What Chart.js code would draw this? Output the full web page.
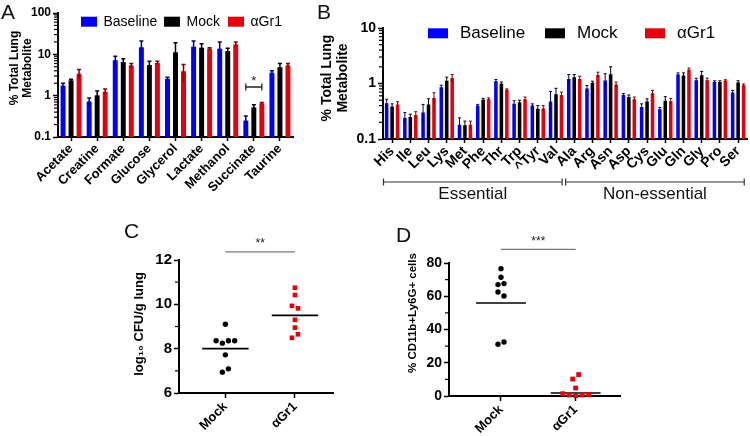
<!DOCTYPE html>
<html><head><meta charset="utf-8">
<script src="https://cdn.jsdelivr.net/npm/chart.js@4.4.1/dist/chart.umd.min.js"></script>
<style>
html,body{margin:0;padding:0;background:#fff}
#wrap{position:relative;width:750px;height:436px;overflow:hidden;font-family:'Liberation Sans',Arial,sans-serif}
#wrap canvas{position:absolute}
.letter{position:absolute;font-size:21px;line-height:1;color:#111}
</style></head><body>
<div id="wrap">
<canvas id="cA" width="300" height="210" style="left:0;top:0"></canvas>
<canvas id="cB" width="450" height="210" style="left:300px;top:0"></canvas>
<canvas id="cC" width="240" height="226" style="left:120px;top:210px"></canvas>
<canvas id="cD" width="250" height="226" style="left:380px;top:210px"></canvas>
<div class="letter" style="left:1px;top:1px">A</div>
<div class="letter" style="left:317px;top:1px">B</div>
<div class="letter" style="left:124px;top:220px">C</div>
<div class="letter" style="left:396px;top:224px">D</div>
</div>
<script>
// ---------- DATA ----------
const seriesNames = ['Baseline', 'Mock', '\u03b1Gr1'];

// Panel A: % total lung metabolite (bar heights and upper error-bar ends)
const metabolites = ['Acetate','Creatine','Formate','Glucose','Glycerol','Lactate','Methanol','Succinate','Taurine'];
const metBaseline    = [1.75, 0.72, 7.2, 14.8, 2.55, 15.3, 13.7, 0.25, 3.6];
const metBaselineErr = [2.0,  0.88, 9.0, 21,   2.8,  21,   20,   0.32, 4.0];
const metMock        = [2.35, 1.02, 6.5, 5.5,  11.2, 14.5, 12.0, 0.52, 4.9];
const metMockErr     = [2.5,  1.3,  7.8, 6.8,  19,   18,   14,   0.60, 6.0];
const metAgr1        = [3.4,  1.25, 5.4, 6.2,  3.9,  13.7, 17.4, 0.65, 5.4];
const metAgr1Err     = [4.3,  1.45, 6.0, 6.8,  5.7,  14.5, 20,   0.68, 6.0];
const metTickLabels  = ['0.1', '1', '10', '100'];
const sigA = { category: 'Succinate', from: 0, to: 2, y: 1.62, text: '*' };

// Panel B: amino acids
const aminoAcids = ['His','Ile','Leu','Lys','Met','Phe','Thr','Trp','^Tyr','Val','Ala','Arg','Asn','Asp','Cys','Glu','Gln','Gly','Pro','Ser'];
const aaBaseline    = [0.44, 0.24, 0.30, 0.86, 0.18, 0.40, 1.10, 0.43, 0.40, 0.475, 1.21, 0.81, 1.13, 0.62, 0.376, 0.345, 1.45, 1.15, 1.06, 0.69];
const aaBaselineErr = [0.52, 0.30, 0.42, 0.93, 0.24, 0.42, 1.18, 0.49, 0.43, 0.72,  1.45, 0.92, 1.50, 0.66, 0.43,  0.37,  1.55, 1.24, 1.12, 0.75];
const aaMock        = [0.386,0.25, 0.42, 1.12, 0.177,0.51, 0.99, 0.46, 0.35, 0.64,  1.30, 1.03, 1.47, 0.57, 0.475, 0.49,  1.39, 1.41, 1.06, 1.04];
const aaMockErr     = [0.43, 0.28, 0.53, 1.30, 0.21, 0.54, 1.06, 0.50, 0.40, 0.82,  1.45, 1.10, 2.0,  0.62, 0.53,  0.58,  1.55, 1.65, 1.12, 1.12];
const aaAgr1        = [0.42, 0.27, 0.55, 1.26, 0.18, 0.52, 0.77, 0.52, 0.355,0.62,  1.21, 1.43, 0.96, 0.52, 0.67,  0.48,  1.76, 1.15, 1.13, 0.93];
const aaAgr1Err     = [0.47, 0.31, 0.68, 1.45, 0.21, 0.55, 0.80, 0.57, 0.40, 0.70,  1.35, 1.60, 1.06, 0.57, 0.75,  0.54,  1.90, 1.25, 1.17, 0.98];
const aaTickLabels  = ['0.1', '1', '10'];
const aaGroups = [{ label: 'Essential', from: 0, to: 9 }, { label: 'Non-essential', from: 10, to: 19 }];

// Panels C & D: individual animals
const groups = ['Mock', '\u03b1Gr1'];
const groupPos = [1, 2.5];
const cfuMock        = [9.10, 8.36, 8.25, 8.36, 8.36, 7.72, 6.94, 7.09];
const cfuMockJitter  = [0, -0.2, -0.065, 0.065, 0.2, 0, -0.065, 0.065];
const cfuAgr1        = [10.75, 10.42, 9.93, 9.82, 9.30, 8.95, 8.65, 8.49];
const cfuAgr1Jitter  = [0, 0, -0.065, 0.065, 0, 0, 0.065, -0.065];
const cfuMeans       = [8.0, 9.5];
const cfuTickLabels  = [6, 8, 10, 12];
const sigC = { y: 12.37, text: '**' };

const neutMock       = [76.6, 71.4, 67.0, 67.6, 62.6, 60.2, 31.1, 32.5];
const neutMockJitter = [0, 0, -0.06, 0.06, -0.06, 0.06, -0.06, 0.06];
const neutAgr1       = [12.9, 10.2, 4.8, 1.4, 0.6, 0.2, 0.6, 0.8];
const neutAgr1Jitter = [0.06, -0.06, 0, -0.26, -0.13, 0, 0.13, 0.26];
const neutMeans      = [55.9, 1.8];
const neutTickLabels = [0, 20, 40, 60, 80];
const sigD = { y: 88.2, text: '***' };

// ---------- STYLE / HELPERS ----------
const FONT = "'Liberation Sans', Arial, sans-serif";
const BLUE = '#0000ff', BLACK = '#000000', RED = '#e4000f';
const barColors = [BLUE, BLACK, RED];
const errColors = ['#00006e', '#000000', '#7a0000'];

function logTickValues(min, max) {
  const t = [];
  for (let e = Math.round(Math.log10(min)); e < Math.round(Math.log10(max)); e++)
    for (let m = 1; m < 10; m++) t.push(+(m * Math.pow(10, e)).toPrecision(4));
  t.push(max);
  return t;
}
const isDecade = v => Math.abs(Math.log10(v) - Math.round(Math.log10(v))) < 1e-6;
const logLabel = (labels, v) => labels.find(l => Math.abs(parseFloat(l) - v) < 1e-9) || '';
function range(a, b, s) { const r = []; for (let v = a; v <= b + 1e-9; v += s) r.push(+v.toFixed(6)); return r; }

const errorBars = (lw, cap) => ({ id: 'errbars', afterDatasetsDraw(chart) {
  const ctx = chart.ctx, ys = chart.scales.y;
  chart.data.datasets.forEach((ds, i) => {
    const meta = chart.getDatasetMeta(i);
    ctx.save(); ctx.strokeStyle = ds.errColor; ctx.lineWidth = lw;
    meta.data.forEach((el, j) => {
      const v = ds.data[j], hi = ds.errHi[j];
      const top = ys.getPixelForValue(hi);
      const loV = 2 * v - hi;
      const bot = loV > ys.min ? ys.getPixelForValue(loV) : el.y;
      ctx.beginPath();
      ctx.moveTo(el.x, bot); ctx.lineTo(el.x, top);
      ctx.moveTo(el.x - cap, top); ctx.lineTo(el.x + cap, top);
      ctx.stroke();
    });
    ctx.restore();
  });
}});

const minorTicks = (len, isMajor) => ({ id: 'minorTicks', afterDraw(chart) {
  const s = chart.scales.y, ctx = chart.ctx, x = chart.chartArea.left - 1;
  ctx.save(); ctx.strokeStyle = '#000'; ctx.lineWidth = 1.2;
  s.ticks.forEach(t => {
    if (isMajor(t.value)) return;
    const y = s.getPixelForValue(t.value);
    ctx.beginPath(); ctx.moveTo(x, y); ctx.lineTo(x - len, y); ctx.stroke();
  });
  ctx.restore();
}});

const vTitle = (lines, cx, cy, font, lh) => ({ id: 'vtitle', afterDraw(chart) {
  const ctx = chart.ctx;
  ctx.save(); ctx.translate(cx, cy); ctx.rotate(-Math.PI / 2);
  ctx.font = font; ctx.fillStyle = '#000'; ctx.textAlign = 'center'; ctx.textBaseline = 'middle';
  lines.forEach((l, k) => ctx.fillText(l, 0, (k - (lines.length - 1) / 2) * lh));
  ctx.restore();
}});

const boxLegend = (xs, cy, boxW, boxH, gap, font) => ({ id: 'boxLegend', afterDraw(chart) {
  const ctx = chart.ctx;
  ctx.save(); ctx.font = font; ctx.textBaseline = 'middle'; ctx.textAlign = 'left';
  chart.data.datasets.forEach((ds, i) => {
    ctx.fillStyle = ds.backgroundColor; ctx.fillRect(xs[i], cy - boxH / 2, boxW, boxH);
    ctx.fillStyle = '#000'; ctx.fillText(ds.label, xs[i] + boxW + gap, cy);
  });
  ctx.restore();
}});

function barDatasets(vals, errs) {
  return seriesNames.map((n, i) => ({ label: n, data: vals[i], errHi: errs[i],
    backgroundColor: barColors[i], borderWidth: 0, errColor: errColors[i] }));
}

function logBarOptions(cfg) {
  return {
    responsive: false, animation: false, devicePixelRatio: 1,
    layout: { padding: cfg.padding },
    plugins: { legend: { display: false }, tooltip: { enabled: false } },
    datasets: { bar: { categoryPercentage: cfg.catPct, barPercentage: cfg.barPct } },
    scales: {
      x: {
        grid: { display: true, drawOnChartArea: false, offset: false, tickLength: 4, tickWidth: 1.5, tickColor: '#000' },
        border: { color: '#000', width: 2 },
        ticks: { font: { family: FONT, size: cfg.xFont, weight: 'bold' }, color: '#000', minRotation: 45, maxRotation: 45, autoSkip: false, padding: 0 },
        afterFit: s => { s.height = cfg.xHeight; }
      },
      y: {
        type: 'logarithmic', min: cfg.min, max: cfg.max,
        afterBuildTicks: s => { s.ticks = logTickValues(cfg.min, cfg.max).map(v => ({ value: v })); },
        ticks: { autoSkip: false, callback: v => isDecade(v) ? logLabel(cfg.tickLabels, v) : '',
          font: { family: FONT, size: cfg.yFont, weight: 'bold' }, color: '#000', padding: 2 },
        grid: { display: true, drawOnChartArea: false, tickLength: 5, tickWidth: 1.5,
          tickColor: c => (c.tick && isDecade(c.tick.value)) ? '#000' : 'rgba(0,0,0,0)' },
        border: { color: '#000', width: 2 },
        afterFit: s => { s.width = cfg.yWidth; }
      }
    }
  };
}

// ---------- PANEL A ----------
const sigBracketA = { id: 'sigA', afterDraw(chart) {
  const ctx = chart.ctx, ys = chart.scales.y;
  const idx = metabolites.indexOf(sigA.category);
  const x1 = chart.getDatasetMeta(sigA.from).data[idx].x;
  const x2 = chart.getDatasetMeta(sigA.to).data[idx].x;
  const y = ys.getPixelForValue(sigA.y);
  ctx.save(); ctx.strokeStyle = '#222'; ctx.lineWidth = 1.3;
  ctx.beginPath();
  ctx.moveTo(x1, y); ctx.lineTo(x2, y);
  ctx.moveTo(x1, y - 3.5); ctx.lineTo(x1, y + 3.5);
  ctx.moveTo(x2, y - 3.5); ctx.lineTo(x2, y + 3.5);
  ctx.stroke();
  ctx.fillStyle = '#222'; ctx.font = '13px ' + FONT; ctx.textAlign = 'center'; ctx.textBaseline = 'middle';
  ctx.fillText(sigA.text, (x1 + x2) / 2, y - 6);
  ctx.restore();
}};

new Chart(document.getElementById('cA'), {
  type: 'bar',
  data: { labels: metabolites, datasets: barDatasets([metBaseline, metMock, metAgr1], [metBaselineErr, metMockErr, metAgr1Err]) },
  options: logBarOptions({ padding: { top: 13, right: 7, left: 0, bottom: 0 }, catPct: 0.92, barPct: 0.62,
    xFont: 13, xHeight: 73, min: 0.1, max: 100, tickLabels: metTickLabels, yFont: 12, yWidth: 58 }),
  plugins: [errorBars(1.5, 2), minorTicks(3, isDecade), vTitle(['% Total Lung', 'Metabolite'], 21, 68, 'bold 12px ' + FONT, 12.5),
    boxLegend([81, 164, 228], 21.7, 16, 10, 6.5, '14px ' + FONT), sigBracketA]
});

// ---------- PANEL B ----------
const groupBrackets = { id: 'groupBrackets', afterDraw(chart) {
  const ctx = chart.ctx, xs = chart.scales.x;
  const half = (xs.getPixelForValue(1) - xs.getPixelForValue(0)) / 2;
  const y = 182;
  ctx.save(); ctx.strokeStyle = '#333'; ctx.lineWidth = 1.2;
  ctx.fillStyle = '#111'; ctx.font = '17px ' + FONT; ctx.textAlign = 'center'; ctx.textBaseline = 'middle';
  aaGroups.forEach(g => {
    const x1 = xs.getPixelForValue(g.from) - half + 0.5;
    const x2 = xs.getPixelForValue(g.to) + half - 3;
    ctx.beginPath();
    ctx.moveTo(x1, y); ctx.lineTo(x2, y);
    ctx.moveTo(x1, y - 3.5); ctx.lineTo(x1, y + 3.5);
    ctx.moveTo(x2, y - 3.5); ctx.lineTo(x2, y + 3.5);
    ctx.stroke();
    ctx.fillText(g.label, (x1 + x2) / 2, y + 12);
  });
  ctx.restore();
}};

new Chart(document.getElementById('cB'), {
  type: 'bar',
  data: { labels: aminoAcids, datasets: barDatasets([aaBaseline, aaMock, aaAgr1], [aaBaselineErr, aaMockErr, aaAgr1Err]) },
  options: logBarOptions({ padding: { top: 28, right: 0, left: 0, bottom: 0 }, catPct: 0.9, barPct: 0.65,
    xFont: 14, xHeight: 71, min: 0.1, max: 10, tickLabels: aaTickLabels, yFont: 14, yWidth: 83 }),
  plugins: [errorBars(1, 1.5), minorTicks(3, isDecade), vTitle(['% Total Lung', 'Metabolite'], 35, 78, 'bold 14px ' + FONT, 16),
    boxLegend([128, 245, 345], 33.3, 20, 10, 12, '17px ' + FONT), groupBrackets]
});

// ---------- PANELS C & D ----------
const sigLine = (sig) => ({ id: 'sigLine', afterDraw(chart) {
  const ctx = chart.ctx, xs = chart.scales.x, ys = chart.scales.y;
  const x1 = xs.getPixelForValue(groupPos[0]), x2 = xs.getPixelForValue(groupPos[1]);
  const y = ys.getPixelForValue(sig.y);
  ctx.save(); ctx.strokeStyle = '#777'; ctx.lineWidth = 1.2;
  ctx.beginPath(); ctx.moveTo(x1, y); ctx.lineTo(x2, y); ctx.stroke();
  ctx.fillStyle = '#222'; ctx.font = '12px ' + FONT; ctx.textAlign = 'center'; ctx.textBaseline = 'middle';
  ctx.fillText(sig.text, (x1 + x2) / 2, y - 8);
  ctx.restore();
}});

function scatterConfig(cfg) {
  const ds = [
    { label: groups[0], data: cfg.mock.map((v, i) => ({ x: groupPos[0] + cfg.mockJ[i], y: v })),
      pointStyle: 'circle', pointRadius: cfg.circR, backgroundColor: BLACK, borderWidth: 0, clip: false },
    { label: groups[1], data: cfg.agr.map((v, i) => ({ x: groupPos[1] + cfg.agrJ[i], y: v })),
      pointStyle: 'rect', pointRadius: cfg.rectR, backgroundColor: RED, borderWidth: 0, clip: false },
  ];
  cfg.means.forEach((m, i) => ds.push({ label: groups[i] + ' mean', showLine: true, pointRadius: 0,
    borderColor: '#000', borderWidth: 1.6, clip: false,
    data: [{ x: groupPos[i] - 0.5, y: m }, { x: groupPos[i] + 0.5, y: m }] }));
  return {
    type: 'scatter',
    data: { datasets: ds },
    options: {
      responsive: false, animation: false, devicePixelRatio: 1,
      layout: { padding: cfg.padding },
      plugins: { legend: { display: false }, tooltip: { enabled: false } },
      scales: {
        x: { type: 'linear', min: cfg.xMin, max: cfg.xMax,
          afterBuildTicks: s => { s.ticks = groupPos.map(v => ({ value: v })); },
          ticks: { autoSkip: false, callback: v => groups[groupPos.indexOf(v)] || '', minRotation: 45, maxRotation: 45,
            font: { family: FONT, size: 13, weight: 'bold' }, color: '#000', padding: 1 },
          grid: { display: true, drawOnChartArea: false, tickLength: 5, tickWidth: 1.5, tickColor: '#000' },
          border: { color: '#000', width: 2 },
          afterFit: s => { s.height = cfg.xHeight; } },
        y: { min: cfg.yMin, max: cfg.yMax,
          afterBuildTicks: s => { s.ticks = range(cfg.yMin, cfg.yMax, cfg.minorStep).map(v => ({ value: v })); },
          ticks: { autoSkip: false, callback: v => cfg.yLabels.includes(v) ? String(v) : '',
            font: { family: FONT, size: cfg.yFont, weight: 'bold' }, color: '#000', padding: 2 },
          grid: { display: true, drawOnChartArea: false, tickLength: 5, tickWidth: 1.5,
            tickColor: c => (c.tick && cfg.yLabels.includes(c.tick.value)) ? '#000' : 'rgba(0,0,0,0)' },
          border: { color: '#000', width: 2 },
          afterFit: s => { s.width = cfg.yWidth; } }
      }
    },
    plugins: [minorTicks(3, v => cfg.yLabels.includes(v)), vTitle([cfg.title], cfg.tx, cfg.ty, cfg.titleFont, 14), sigLine(cfg.sig)]
  };
}

new Chart(document.getElementById('cC'), scatterConfig({
  mock: cfuMock, mockJ: cfuMockJitter, agr: cfuAgr1, agrJ: cfuAgr1Jitter, means: cfuMeans,
  circR: 2.7, rectR: 3.3, padding: { top: 50, right: 27, left: 0, bottom: 0 },
  xMin: 0, xMax: 3.32, xHeight: 43, yMin: 6, yMax: 12, minorStep: 1, yLabels: cfuTickLabels, yFont: 15, yWidth: 59,
  title: 'log\u2081\u2080 CFU/g lung', titleFont: 'bold 13px ' + FONT, tx: 19, ty: 114, sig: sigC
}));

new Chart(document.getElementById('cD'), scatterConfig({
  mock: neutMock, mockJ: neutMockJitter, agr: neutAgr1, agrJ: neutAgr1Jitter, means: neutMeans,
  circR: 2.7, rectR: 3.4, padding: { top: 53, right: 10, left: 0, bottom: 0 },
  xMin: -0.044, xMax: 3.39, xHeight: 40, yMin: 0, yMax: 80, minorStep: 10, yLabels: neutTickLabels, yFont: 14, yWidth: 69,
  title: '% CD11b+Ly6G+ cells', titleFont: 'bold 11.5px ' + FONT, tx: 33, ty: 103, sig: sigD
}));
</script>
</body></html>
